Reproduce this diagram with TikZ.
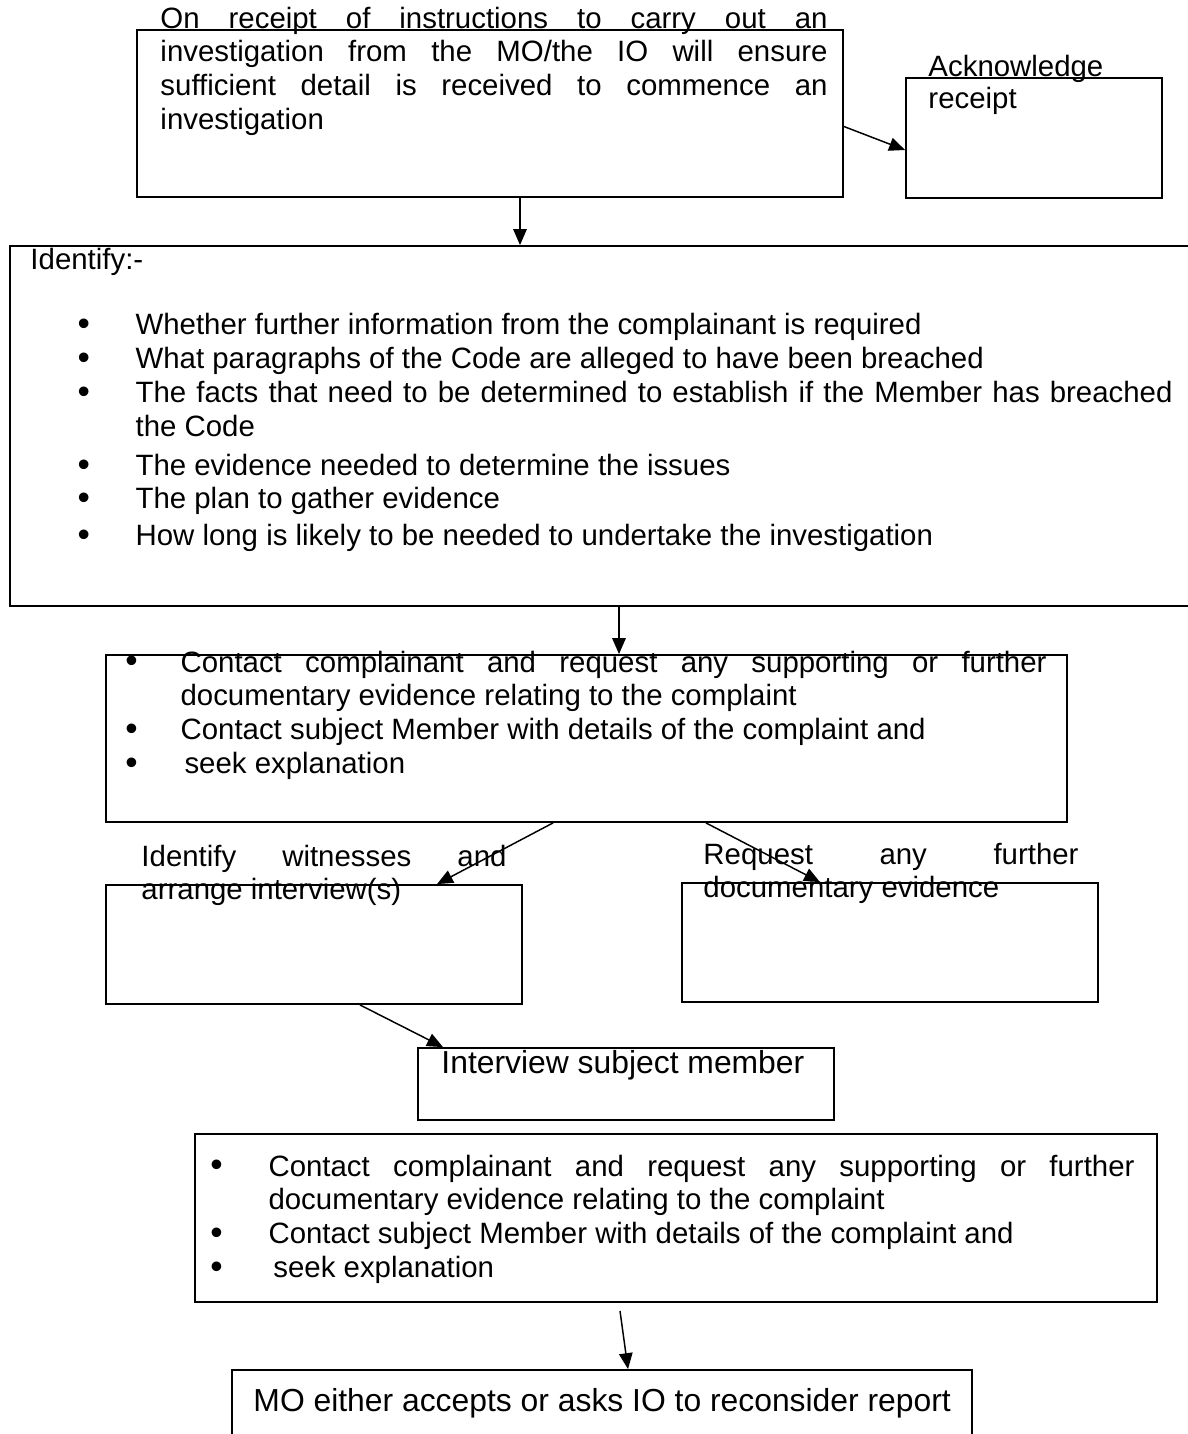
\documentclass[tikz,border=0pt]{standalone}
\usepackage{fontspec}
\setmainfont{Liberation Sans}
\usetikzlibrary{arrows.meta,positioning,fit,calc}
% bullet line: #1 = bullet offset, #2 = text indent
\newcommand{\bulletmark}{\raisebox{-0.4pt}{\scalebox{1.2}{\textbullet}}}
\newcommand{\firstbitem}[2]{\hangindent=#2\hangafter=1\noindent\makebox[#2][l]{\hspace{#1}\bulletmark}\ignorespaces}
\newcommand{\bitem}[2]{\par\firstbitem{#1}{#2}}
\tikzset{
  flowbox/.style={draw=black,line width=0.75pt,inner sep=0pt},
  flowtext/.style={anchor=base west,inner sep=0pt,align=justify,
    font=\fontsize{12pt}{13.8pt}\selectfont,
    execute at begin node={\tolerance=10000\hbadness=10000}},
  bigtext/.style={anchor=base west,inner sep=0pt,font=\fontsize{13pt}{15pt}\selectfont},
  flowarrow/.style={-{Triangle[length=6.5pt,width=5.5pt]},line width=0.6pt},
}
\begin{document}
\begin{tikzpicture}[x=0.4082pt,y=-0.4082pt]
  \useasboundingbox (0,0) rectangle (1188,1434);
  % boxes
  \node[flowbox,fit={(137,30)(843,197)}] (intro) {};
  \node[flowbox,fit={(906,78)(1162,198)}] (ack) {};
  \node[flowbox,fit={(10,246)(1196,606)}] (identify) {};
  \node[flowbox,fit={(106,655)(1067,822)}] (contact) {};
  \node[flowbox,fit={(106,885)(522,1004)}] (witness) {};
  \node[flowbox,fit={(682,883)(1098,1002)}] (request) {};
  \node[flowbox,fit={(418,1048)(834,1120)}] (interview) {};
  \node[flowbox,fit={(195,1134)(1157,1302)}] (contact2) {};
  \node[flowbox,fit={(232,1370)(972,1444)}] (decision) {};
  % texts
  \node[flowtext,text width=272.3pt] (intro-txt) at (160,28)
    {On receipt of instructions to carry out an\linebreak investigation from the MO/the IO will ensure\linebreak sufficient detail is received to commence an\linebreak investigation};
  \node[flowtext,text width=100pt,align=left,font=\fontsize{12pt}{13.1pt}\selectfont] (ack-txt) at (928,76)
    {Acknowledge\\receipt};
  \node[flowtext,text width=466.2pt] (identify-txt) at (30,269)
    {Identify:-\par\vspace{13.1pt}
     \firstbitem{19.2pt}{42.9pt}Whether further information from the complainant is required
     \bitem{19.2pt}{42.9pt}What paragraphs of the Code are alleged to have been breached
     \bitem{19.2pt}{42.9pt}The facts that need to be determined to establish if the Member has breached\linebreak the Code
     \par\vspace{2pt}
     \firstbitem{19.2pt}{42.9pt}The evidence needed to determine the issues
     \bitem{19.2pt}{42.9pt}The plan to gather evidence
     \par\vspace{1pt}
     \firstbitem{19.2pt}{42.9pt}How long is likely to be needed to undertake the investigation};
  \node[flowtext,text width=376pt] (contact-txt) at (125,672)
    {\firstbitem{0pt}{22.5pt}Contact complainant and request any supporting or further\linebreak documentary evidence relating to the complaint
     \bitem{0pt}{22.5pt}Contact subject Member with details of the complaint and
     \bitem{0pt}{24.1pt}seek explanation};
  \node[flowtext,text width=149pt] (witness-txt) at (141,866)
    {Identify witnesses and\linebreak arrange interview(s)};
  \node[flowtext,text width=153.1pt] (request-txt) at (703,864)
    {Request any further\linebreak documentary evidence};
  \node[bigtext] (interview-txt) at (441,1073) {Interview subject member};
  \node[flowtext,text width=377.2pt] (contact2-txt) at (210,1176)
    {\firstbitem{0pt}{23.7pt}Contact complainant and request any supporting or further\linebreak documentary evidence relating to the complaint
     \bitem{0pt}{23.7pt}Contact subject Member with details of the complaint and
     \bitem{0pt}{25.7pt}seek explanation};
  \node[bigtext] (decision-txt) at (253,1411) {MO either accepts or asks IO to reconsider report};
  % connectors
  \coordinate (a1) at ($(intro.south)+(30,0)$);
  \draw[flowarrow] (a1) -- (a1 |- identify.north);
  \draw[flowarrow] ($(intro.east)+(0,13)$) -- ($(ack.west)+(0,12)$);
  \coordinate (a2) at ($(identify.south)+(16,0)$);
  \draw[flowarrow] (a2) -- (a2 |- contact.north);
  \draw[flowarrow] ($(contact.south)+(-33.5,0)$) -- ($(witness.north)+(123,0)$);
  \draw[flowarrow] ($(contact.south)+(119.5,0)$) -- ($(request.north)+(-70,0)$);
  \draw[flowarrow] ($(witness.south)+(46,0)$) -- ($(interview.north)+(-183,0)$);
  \draw[flowarrow] ($(contact2.south)+(-56,8)$) -- ($(decision.north)+(26,0)$);
\end{tikzpicture}
\end{document}
